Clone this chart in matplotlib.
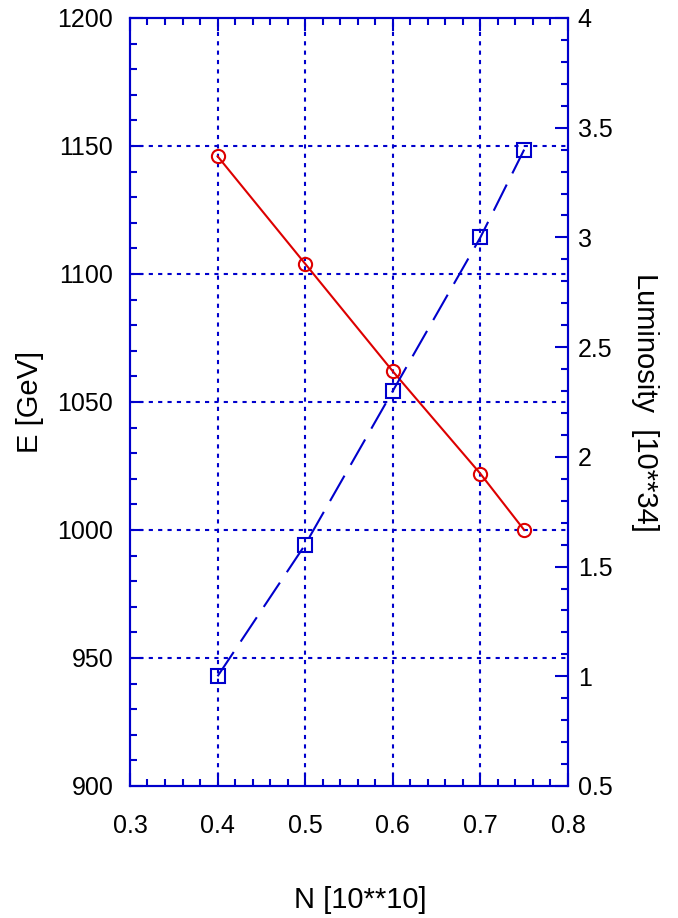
import numpy as np
import matplotlib
matplotlib.use("Agg")
import matplotlib.pyplot as plt
from matplotlib.ticker import MultipleLocator

plt.rcParams['font.family'] = ['Liberation Sans', 'DejaVu Sans']

# data
n_bunch = [0.4, 0.5, 0.6, 0.7, 0.75]
energy = [1146, 1104, 1062, 1022, 1000]
lumi = [1.0, 1.6, 2.3, 3.0, 3.4]

BLUE = '#0000cc'
RED = '#dd0000'

fig = plt.figure(figsize=(6.78, 9.18), dpi=100)
ax = fig.add_axes([0.1917, 0.1438, 0.646, 0.8366])
ax2 = ax.twinx()

for a in (ax, ax2):
    for s in a.spines.values():
        s.set_color(BLUE)
        s.set_linewidth(1.5)

ax.set_xlim(0.3, 0.8)
ax.set_ylim(900, 1200)
ax2.set_ylim(0.5, 4)

ax.xaxis.set_major_locator(MultipleLocator(0.1))
ax.xaxis.set_minor_locator(MultipleLocator(0.02))
ax.yaxis.set_major_locator(MultipleLocator(50))
ax.yaxis.set_minor_locator(MultipleLocator(10))
ax2.yaxis.set_major_locator(MultipleLocator(0.5))
ax2.yaxis.set_minor_locator(MultipleLocator(0.1))

ax.tick_params(which='both', direction='in', color=BLUE, width=1.5,
               labelsize=18, top=True)
ax.tick_params(axis='x', pad=20)
ax.tick_params(axis='y', pad=12)
ax.tick_params(which='major', length=9.5)
ax.tick_params(which='minor', length=5)
ax2.tick_params(which='both', direction='in', color=BLUE, width=1.5,
                labelsize=18, pad=7)
ax2.tick_params(which='major', length=9.5)
ax2.tick_params(which='minor', length=5)

ax.set_xticks([0.3, 0.4, 0.5, 0.6, 0.7, 0.8])
ax.set_xticklabels(['0.3', '0.4', '0.5', '0.6', '0.7', '0.8'])
ax2.set_yticks([0.5, 1, 1.5, 2, 2.5, 3, 3.5, 4])
ax2.set_yticklabels(['0.5', '1', '1.5', '2', '2.5', '3', '3.5', '4'])

# grid only inside the frame
for xv in [0.4, 0.5, 0.6, 0.7]:
    ax.axvline(xv, color=BLUE, linestyle=(0, (2, 2.5)), linewidth=1.5, zorder=1)
for yv in [950, 1000, 1050, 1100, 1150]:
    ax.axhline(yv, color=BLUE, linestyle=(0, (2, 2.5)), linewidth=1.5, zorder=1)

ax.plot(n_bunch, energy, color=RED, linewidth=1.5, marker='o', markersize=9.5,
        markerfacecolor='none', markeredgecolor=RED, markeredgewidth=1.5, zorder=3)
ax2.plot(n_bunch, lumi, color=BLUE, linewidth=1.5, linestyle=(0, (14, 6)),
         marker='s', markersize=9.5, markerfacecolor='none', markeredgecolor=BLUE,
         markeredgewidth=1.5, zorder=3)

ax.set_ylabel('E [GeV]', fontsize=21)
ax.yaxis.set_label_coords(-0.2283, 0.5)
ax.yaxis.label.set_va('center')
ax2.set_ylabel('Luminosity  [10**34]', fontsize=21, rotation=270)
ax2.yaxis.set_label_coords(1.1758, 0.5)
ax2.yaxis.label.set_va('center')
ax.set_xlabel('N [10**10]', fontsize=21)
ax.xaxis.set_label_coords(0.525, -0.1484)
ax.xaxis.label.set_va('center')

fig.savefig('out.png', dpi=100)
